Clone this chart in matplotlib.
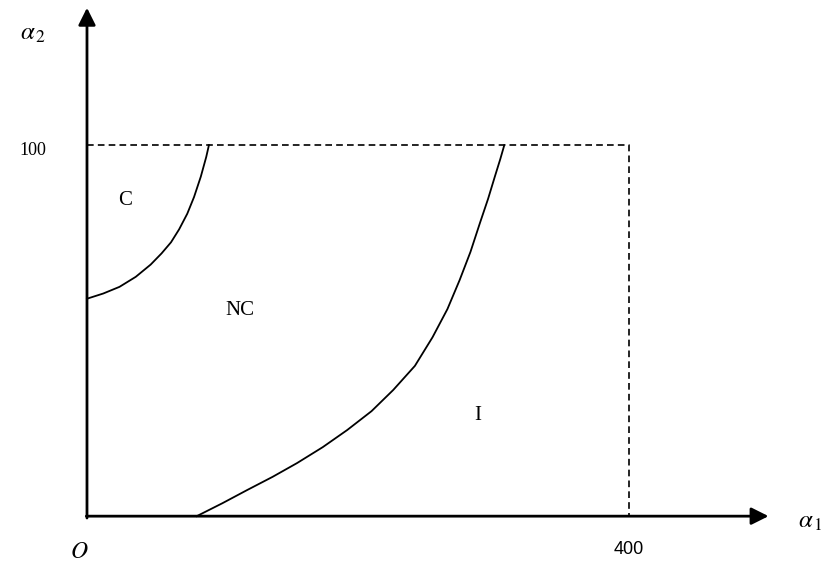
import numpy as np
import matplotlib.pyplot as plt

# boundary curves (alpha1, alpha2)
c_nc_x = [0, 12, 24, 36, 47, 55, 62, 68, 74, 79, 84, 88, 90]
c_nc_y = [58.6, 60.0, 61.8, 64.5, 67.8, 70.8, 73.8, 77.3, 81.5, 86.0, 91.5, 96.8, 100]

nc_i_x = [81, 100, 118, 137, 155, 174, 192, 210, 226, 242, 255, 266, 275, 283, 290, 296, 301, 305, 308]
nc_i_y = [0, 3.5, 7.0, 10.6, 14.3, 18.6, 23.2, 28.3, 34.0, 40.5, 48.2, 55.8, 63.6, 71.2, 79.0, 85.5, 91.5, 96.2, 100]

x_max = 400
y_max = 100

plt.rcParams['font.family'] = ['Liberation Serif', 'DejaVu Serif']
plt.rcParams['mathtext.fontset'] = 'stix'

fig = plt.figure(figsize=(8.31, 5.67), dpi=100)
ax = fig.add_axes([0, 0, 1, 1])
ax.set_xlim(-64.2, 549.1)
ax.set_ylim(-13.7, 139.1)
ax.axis('off')

# axes with arrows
arr = dict(arrowstyle='-|>', color='black', lw=2.0, mutation_scale=26,
           shrinkA=0, shrinkB=0)
ax.annotate('', xy=(503, 0), xytext=(-0.5, 0), arrowprops=arr)
ax.annotate('', xy=(0, 137), xytext=(0, -0.5), arrowprops=arr)

# dashed box
ax.plot([0, x_max, x_max], [y_max, y_max, 0], color='black', lw=1.2,
        ls=(0, (4, 2.5)))

# boundaries
ax.plot(c_nc_x, c_nc_y, color='black', lw=1.3)
ax.plot(nc_i_x, nc_i_y, color='black', lw=1.3)

# labels
ax.text(28, 85, 'C', fontsize=15, ha='center', va='center')
ax.text(113, 55.5, 'NC', fontsize=15, ha='center', va='center')
ax.text(288.5, 27, 'I', fontsize=15, ha='center', va='center')

ax.text(-40, y_max - 1.5, '100', fontsize=13, ha='center', va='center')
ax.text(x_max, -9, '400', fontsize=13, ha='center', va='center',
        family='Liberation Sans')
ax.text(-5.5, -9.7, '$O$', fontsize=17, ha='center', va='center')
ax.text(-40, 130, r'$\alpha_{\,2}$', fontsize=18, ha='center', va='center')
ax.text(534, -1.5, r'$\alpha_{\,1}$', fontsize=18, ha='center', va='center')

fig.savefig('out.png', dpi=100)
